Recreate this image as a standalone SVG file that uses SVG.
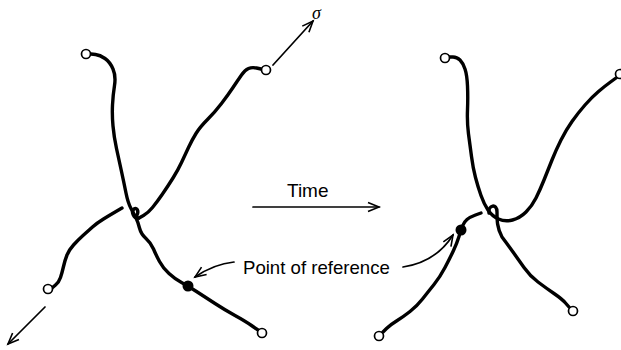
<svg xmlns="http://www.w3.org/2000/svg" width="621" height="350" viewBox="0 0 621 350">
<style>
.strand{fill:none;stroke:#000;stroke-width:3.4;stroke-linecap:round;stroke-linejoin:round}
.end{fill:#fff;stroke:#000;stroke-width:1.7}
.dot{fill:#000}
.arrow{fill:none;stroke:#000;stroke-width:1.7;stroke-linecap:round}
.lbl{font-family:"Liberation Sans",Arial,sans-serif;fill:#000}
</style>
<defs>
<marker id="ah" markerWidth="16" markerHeight="12" refX="13" refY="6" orient="auto" markerUnits="userSpaceOnUse">
<path d="M2,1.5 L13,6 L2,10.5" fill="none" stroke="#000" stroke-width="1.6" stroke-linejoin="miter"/>
</marker>
</defs>
<rect width="621" height="350" fill="#fff"/>

<g id="left-figure">
<path class="strand" d="M91,54 L95.5,54.5 Q100,55 105,58.5 Q110,62 113,69 Q116,76 114.5,85.5 Q113,95 112.5,105 Q112,115 113,126 Q114,137 116.5,148.5 Q119,160 121.5,171.5 Q124,183 126,193 Q128,203 131,208.5 Q134,214 136,218 Q138,222 139.5,228 Q141,234 146,238.5 Q151,243 153.5,249 Q156,255 159.5,261.5 Q163,268 169,273.5 Q175,279 181.5,282.5 Q188,286 196.5,291.5 Q205,297 215,303.5 Q225,310 235,315.5 Q245,321 251.5,325.5 L258,330"/>
<path class="strand" d="M261,69 L256.5,68 Q252,67 248.5,68.5 Q245,70 241.5,75 Q238,80 233,87.5 Q228,95 221.5,103.5 Q215,112 207.5,119.5 Q200,127 196,133.5 Q192,140 188.5,147.5 Q185,155 181.5,162.5 Q178,170 173,178 Q168,186 162.5,194 Q157,202 152.5,207.5 Q148,213 143.5,215.5 L139,218"/>
<path class="strand" d="M139,218 C133,219 131,211 134,209 C137,207 139,211 137,215" stroke-width="2.6"/>
<path class="strand" d="M122,208 L116,211.5 Q110,215 103.5,219 Q97,223 92.5,227 Q88,231 83,235.5 Q78,240 73.5,245 Q69,250 67,255 Q65,260 63.5,266.5 Q62,273 60.5,277.5 Q59,282 55.5,285 L52,288"/>
<circle class="end" cx="86" cy="54" r="4.5"/>
<circle class="end" cx="266" cy="70" r="4.5"/>
<circle class="end" cx="48" cy="289" r="4.5"/>
<circle class="end" cx="262" cy="333" r="4.5"/>
<circle class="dot" cx="188" cy="286" r="5.5"/>
</g>

<g id="right-figure">
<path class="strand" d="M449,57 L453,57 Q457,57 460,60 Q463,63 465,69 Q467,75 467.5,86 Q468,97 467.5,110 Q467,123 468.5,134 Q470,145 471.5,156.5 Q473,168 475.5,177.5 Q478,187 481,195.5 Q484,204 488,210 Q492,216 498.5,219 Q505,222 512.5,220 Q520,218 526,212 Q532,206 536,198 Q540,190 544,180 Q548,170 552,160 Q556,150 561,140 Q566,130 572,121.5 Q578,113 585,105 Q592,97 598.5,91.5 Q605,86 610.5,82 L616,78"/>
<path class="strand" d="M489,213 C488,205 497,203 497,212 C497,220 497,228 502,237 Q508,245 513,252 Q518,259 524,267.5 Q530,276 538,282 Q546,288 554,293.5 Q562,299 565.5,303 L569,307"/>
<path class="strand" d="M481,213 L475.5,215 Q470,217 467,219.5 Q464,222 462.5,226 Q461,230 459,236.5 Q457,243 453.5,250.5 Q450,258 445,267.5 Q440,277 434,284.5 Q428,292 422.5,299 Q417,306 410,311.5 Q403,317 396.5,321 Q390,325 386.5,328.5 L383,332"/>
<circle class="end" cx="445" cy="58" r="4.5"/>
<circle class="end" cx="620" cy="74" r="4.5"/>
<circle class="end" cx="573" cy="311" r="4.5"/>
<circle class="end" cx="379" cy="336" r="4.5"/>
<circle class="dot" cx="461" cy="230" r="5.5"/>
</g>

<g id="connectors">
<line class="arrow" x1="273" y1="65" x2="313" y2="21" marker-end="url(#ah)"/>
<line class="arrow" x1="45" y1="307" x2="8" y2="344" marker-end="url(#ah)"/>
<line class="arrow" x1="253" y1="207" x2="379" y2="207" marker-end="url(#ah)"/>
<path class="arrow" d="M234,262 Q214,264 195,277" marker-end="url(#ah)"/>
<path class="arrow" d="M403,267 Q436,262 453,235" marker-end="url(#ah)"/>
</g>

<g id="labels">
<text x="312" y="19" font-family="'Liberation Serif','DejaVu Serif',serif" font-style="italic" font-size="18">σ</text>
<text class="lbl" x="287" y="197" font-size="19">Time</text>
<text class="lbl" x="243" y="274" font-size="18.6">Point of reference</text>
</g>
</svg>
